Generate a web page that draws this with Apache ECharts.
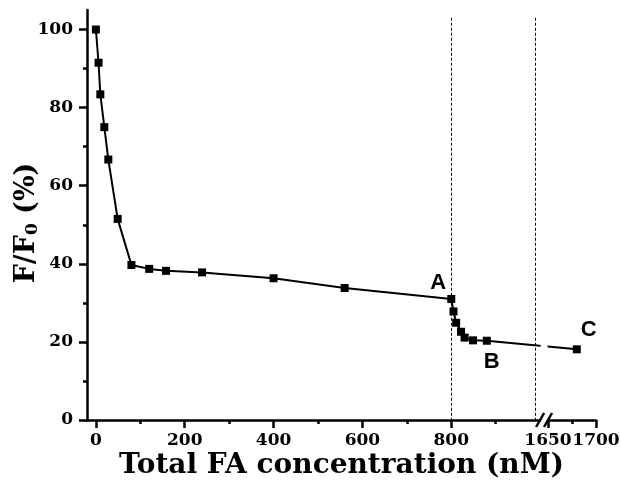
<!DOCTYPE html>
<html><head><meta charset="utf-8">
<script src="https://cdn.jsdelivr.net/npm/echarts@6/dist/echarts.min.js"></script>
<style>html,body{margin:0;padding:0;background:#fff}#c{width:621px;height:488px}</style>
</head><body><div id="c"></div>
<script>
// ---- data ----
const concentration = [0, 6, 10, 19, 28, 49, 80, 120, 158, 239, 400, 560, 800, 805, 811, 822, 830, 849, 880, 1680];
const ratio = [100, 91.5, 83.4, 75.0, 66.7, 51.5, 39.7, 38.7, 38.2, 37.8, 36.3, 33.8, 31.0, 27.8, 24.9, 22.6, 21.1, 20.4, 20.3, 18.1];
const pointNames = ['', '', '', '', '', '', '', '', '', '', '', '', 'A', '', '', '', '', '', 'B', 'C'];
const xMajorTicks = [0, 200, 400, 600, 800, 1650, 1700];
const xMinorTicks = [100, 300, 500, 700, 900, 1675];
const yMajorTicks = [0, 20, 40, 60, 80, 100];
const yMinorTicks = [10, 30, 50, 70, 90];
const guideLines = [800, 990];
const breakStart = 1000, breakEnd = 1650;

// ---- broken-axis mapping: second segment drawn with a larger scale ----
const SEG2_START = 1017.8, SEG2_SCALE = 2.16;
function toAxis(x) { return x <= breakStart ? x : SEG2_START + (x - breakEnd) * SEG2_SCALE; }
function fromAxis(v) { return v <= breakStart + 1 ? v : breakEnd + (v - SEG2_START) / SEG2_SCALE; }

const FONT = "'DejaVu Serif', serif";
const labelOffsets = { A: [-13, -16], B: [5, 21], C: [12, -19] };

const seriesData = concentration.map((x, i) => {
  const item = { value: [toAxis(x), ratio[i]] };
  const n = pointNames[i];
  if (n) {
    item.label = {
      show: true, formatter: n, position: 'inside', offset: labelOffsets[n],
      fontFamily: "'Liberation Sans', Arial, sans-serif", fontWeight: 'bold', fontSize: 22, color: '#000'
    };
  }
  return item;
});

const xMin = -20, xMax = toAxis(1700);
const chart = echarts.init(document.getElementById('c'), null, { renderer: 'canvas' });
const option = {
  animation: false,
  backgroundColor: '#fff',
  grid: { left: 87, right: 25, top: 10, bottom: 68, containLabel: false, outerBoundsMode: 'none' },
  xAxis: [{
    type: 'value', min: xMin, max: xMax,
    axisLine: { onZero: false, lineStyle: { color: '#000', width: 2.5 } },
    axisTick: { show: true, customValues: xMajorTicks.map(toAxis), length: 8, lineStyle: { color: '#000', width: 2.5 } },
    axisLabel: {
      customValues: xMajorTicks.map(toAxis), margin: 12,
      formatter: v => String(Math.round(fromAxis(v))),
      fontFamily: FONT, fontWeight: 'bold', fontSize: 17, color: '#000'
    },
    splitLine: { show: false },
    name: 'Total FA concentration (nM)', nameLocation: 'middle', nameGap: 32, nameMoveOverlap: false,
    nameTextStyle: { fontFamily: FONT, fontWeight: 'bold', fontSize: 28, color: '#000' }
  }, {
    type: 'value', min: xMin, max: xMax, position: 'bottom',
    axisLine: { show: false, onZero: false },
    axisTick: { show: true, customValues: xMinorTicks.map(toAxis), length: 4, lineStyle: { color: '#000', width: 2.5 } },
    axisLabel: { show: false }, splitLine: { show: false }
  }],
  yAxis: [{
    type: 'value', min: 0, max: 105,
    axisLine: { show: true, onZero: false, lineStyle: { color: '#000', width: 2.5 } },
    axisTick: { show: true, customValues: yMajorTicks, length: 8, lineStyle: { color: '#000', width: 2.5 } },
    axisLabel: {
      customValues: yMajorTicks, margin: 14,
      fontFamily: FONT, fontWeight: 'bold', fontSize: 17, color: '#000'
    },
    splitLine: { show: false },
    name: '{a|F/F}{s|0}{a| (%)}{g|}', nameLocation: 'middle', nameGap: 46, nameMoveOverlap: false,
    nameTextStyle: {
      rich: {
        a: { fontFamily: FONT, fontWeight: 'bold', fontSize: 27, color: '#000' },
        s: { fontFamily: FONT, fontWeight: 'bold', fontSize: 17, color: '#000', verticalAlign: 'bottom', padding: [12, 0, 0, 0] },
        g: { width: 16 }
      }
    }
  }, {
    type: 'value', min: 0, max: 105, position: 'left',
    axisLine: { show: false, onZero: false },
    axisTick: { show: true, customValues: yMinorTicks, length: 4, lineStyle: { color: '#000', width: 2.5 } },
    axisLabel: { show: false }, splitLine: { show: false }
  }],
  series: [{
    type: 'line', xAxisIndex: 0, yAxisIndex: 0,
    data: seriesData,
    symbol: 'rect', symbolSize: 8, showSymbol: true,
    lineStyle: { color: '#000', width: 2 },
    itemStyle: { color: '#000' },
    markLine: {
      silent: true, symbol: 'none', label: { show: false },
      lineStyle: { color: '#000', width: 1, type: [3, 2] },
      data: guideLines.map(g => [{ coord: [toAxis(g), 103] }, { coord: [toAxis(g), 0] }])
    }
  }]
};
chart.setOption(option);

// ---- axis break decoration (positions derived from the axis scale) ----
const p1 = chart.convertToPixel({ gridIndex: 0 }, [toAxis(breakStart), 0]);
const p2 = chart.convertToPixel({ gridIndex: 0 }, [toAxis(breakEnd), 0]);
const pTop = chart.convertToPixel({ gridIndex: 0 }, [0, 105]);
chart.setOption({
  graphic: [
    { type: 'rect', z: 100, shape: { x: p1[0] + 0.5, y: pTop[1], width: p2[0] - p1[0] - 1, height: p1[1] - pTop[1] - 3 }, style: { fill: '#fff' } },
    { type: 'rect', z: 100, shape: { x: p1[0] + 1, y: p1[1] - 3, width: p2[0] - p1[0] - 2, height: 6 }, style: { fill: '#fff' } },
    { type: 'line', z: 101, shape: { x1: p1[0] - 4, y1: p1[1] + 7, x2: p1[0] + 4, y2: p1[1] - 7 }, style: { stroke: '#000', lineWidth: 2.5 } },
    { type: 'line', z: 101, shape: { x1: p2[0] - 4, y1: p2[1] + 7, x2: p2[0] + 4, y2: p2[1] - 7 }, style: { stroke: '#000', lineWidth: 2.5 } }
  ]
});
</script>
</body></html>
